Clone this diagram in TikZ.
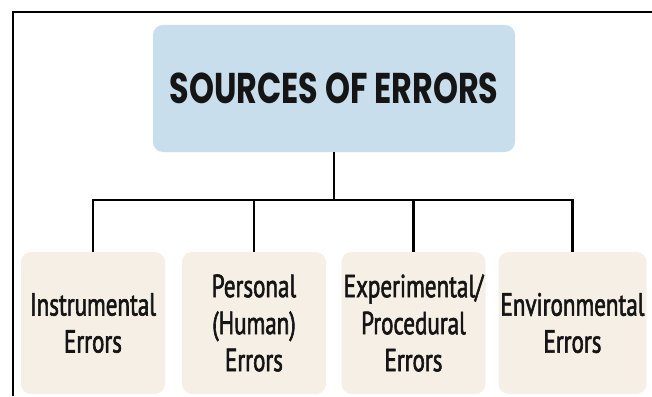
\documentclass[tikz,border=0pt]{standalone}
\usepackage{fontspec}
\usepackage{xcolor}
\setmainfont{PT Sans}[FakeStretch=0.72, FakeBold=1.8]
\newfontfamily\titlefont{Poppins}[FakeStretch=0.74]
\definecolor{titleblue}{HTML}{C8DEEC}
\definecolor{boxcream}{HTML}{F6EFE6}
\definecolor{inkblack}{HTML}{151515}
\tikzset{
	headbox/.style={fill=titleblue, rounded corners=10pt, minimum width=362pt, minimum height=127pt, inner sep=2pt, text=inkblack, font=\titlefont\bfseries\fontsize{43}{43}\selectfont},
	kindbox/.style={fill=boxcream, rounded corners=10pt, minimum width=144pt, minimum height=142pt, inner sep=2pt, align=center, text=inkblack, font=\fontsize{32}{37}\selectfont},
	link/.style={line width=2.6pt, black}
}
\begin{document}
\begin{tikzpicture}[x=1pt, y=-1pt]
	\useasboundingbox (0,0) rectangle (652,396);
	\draw[line width=2pt] (652,12.5) -| (13,396);
	\node[headbox] (sources) at (334,88.5) {SOURCES OF ERRORS};
	\node[kindbox] (instrumental) at (93,323) {Instrumental\\Errors};
	\node[kindbox] (personal) at (254,323) {Personal\\(Human)\\Errors};
	\node[kindbox] (experimental) at (413.5,323) {Experimental/\\Procedural\\Errors};
	\node[kindbox] (environmental) at (572.5,323) {Environmental\\Errors};
	\coordinate (bar) at (334,200);
	\draw[link] (sources) -- (sources |- bar);
	\draw[link] (instrumental) -- (bar -| instrumental) -- (bar -| environmental) -- (environmental);
	\foreach \kind in {personal,experimental}
	{
		\draw[link] (bar -| \kind) -- (\kind);
	}
\end{tikzpicture}
\end{document}
